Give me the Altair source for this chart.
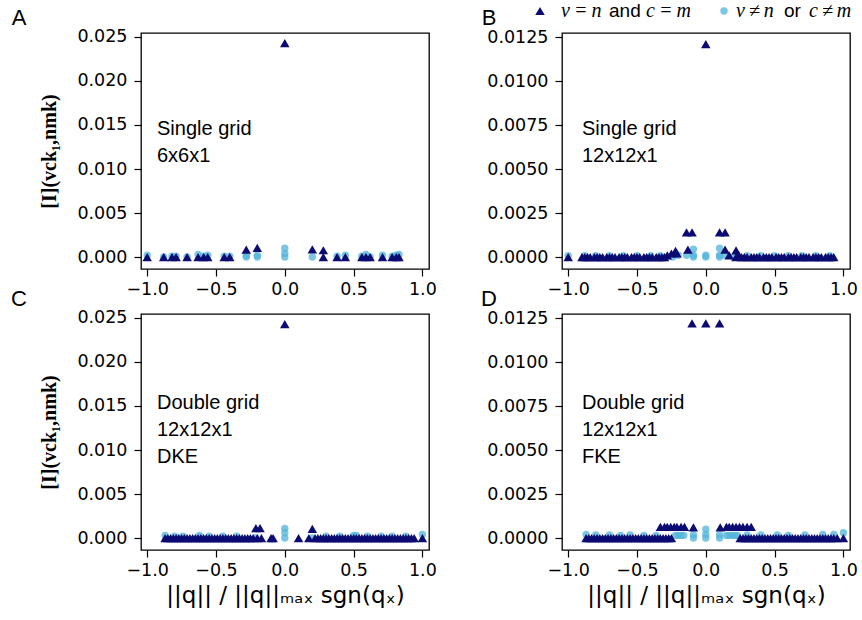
import altair as alt
import pandas as pd

# ---------------- data ----------------
XTICKS = [-1.0, -0.5, 0.0, 0.5, 1.0]
YTICKS_A = [0.0, 0.005, 0.010, 0.015, 0.020, 0.025]
YTICKS_B = [0.0, 0.0025, 0.0050, 0.0075, 0.0100, 0.0125]

# Panel A : single grid 6x6x1   (x, value)
A_tri = [(-1.00, 0.0), (-0.88, 0.0), (-0.82, 0.0), (-0.79, 0.0), (-0.71, 0.0),
         (-0.63, 0.0), (-0.59, 0.0), (-0.56, 0.0), (-0.44, 0.0), (-0.40, 0.0),
         (-0.28, 0.00085), (-0.20, 0.00104), (0.00, 0.0243), (0.20, 0.00088),
         (0.28, 0.00077), (0.28, 0.0), (0.38, 0.0), (0.44, 0.0), (0.56, 0.0),
         (0.59, 0.0), (0.62, 0.0), (0.71, 0.0), (0.78, 0.0), (0.81, 0.0), (0.83, 0.0)]
A_circ = [(-1.00, 0.0002), (-0.88, 0.0), (-0.82, 0.0001), (-0.79, 0.0001), (-0.71, 0.0),
          (-0.63, 0.0003), (-0.59, 0.0001), (-0.56, 0.0002), (-0.44, 0.0001), (-0.40, 0.0001),
          (-0.28, 0.0), (-0.28, 0.0002), (-0.20, 0.0), (-0.20, 0.0002), (0.00, 0.0),
          (0.00, 0.0004), (0.00, 0.0010), (0.20, 0.0), (0.38, 0.0001), (0.44, 0.0002),
          (0.56, 0.0001), (0.59, 0.0003), (0.62, 0.0), (0.71, 0.0002), (0.78, 0.0001),
          (0.81, 0.0002), (0.83, 0.0003)]

# Panel B : single grid 12x12x1
B_tri = [(-1.00, 0.0), (-0.90, 0.0), (-0.88, 0.0), (-0.86, 0.0), (-0.84, 0.0), (-0.81, 0.0),
         (-0.79, 0.0), (-0.77, 0.0), (-0.75, 0.0), (-0.72, 0.0), (-0.70, 0.0), (-0.68, 0.0),
         (-0.66, 0.0), (-0.63, 0.0), (-0.61, 0.0), (-0.59, 0.0), (-0.57, 0.0), (-0.54, 0.0),
         (-0.52, 0.0), (-0.50, 0.0), (-0.48, 0.0), (-0.45, 0.0), (-0.43, 0.0), (-0.41, 0.0),
         (-0.39, 0.0), (-0.36, 0.0), (-0.34, 0.0), (-0.32, 0.0), (-0.30, 0.0), (-0.28, 0.0001),
         (-0.25, 0.0002), (-0.22, 0.00035), (-0.21, 0.0002), (-0.14, 0.0014), (-0.13, 0.00042),
         (-0.10, 0.0014), (0.00, 0.0121), (0.10, 0.0014), (0.14, 0.0014), (0.14, 0.00042),
         (0.17, 0.0001), (0.22, 0.00038), (0.22, 0.0), (0.24, 0.0001), (0.26, 0.0),
         (0.28, 0.0), (0.30, 0.0), (0.33, 0.0), (0.35, 0.0), (0.37, 0.0), (0.39, 0.0),
         (0.42, 0.0), (0.44, 0.0), (0.46, 0.0), (0.48, 0.0), (0.51, 0.0), (0.53, 0.0),
         (0.55, 0.0), (0.57, 0.0), (0.60, 0.0), (0.62, 0.0), (0.64, 0.0), (0.66, 0.0),
         (0.69, 0.0), (0.71, 0.0), (0.73, 0.0), (0.75, 0.0), (0.78, 0.0), (0.80, 0.0),
         (0.82, 0.0), (0.84, 0.0), (0.87, 0.0), (0.89, 0.0), (0.91, 0.0), (0.93, 0.0)]
B_circ = [(-1.00, 0.00008), (-0.88, 0.00008), (-0.80, 0.00008), (-0.70, 0.00008),
          (-0.60, 0.00008), (-0.50, 0.00008), (-0.40, 0.00008), (-0.33, 0.00008),
          (-0.24, 0.0), (-0.20, 0.0001), (-0.14, 0.0001), (-0.09, 0.00045), (-0.09, 0.0001),
          (-0.09, 0.0), (0.00, 0.0001), (0.00, 0.0), (0.10, 0.0005), (0.10, 0.0001),
          (0.10, 0.0), (0.14, 0.0001), (0.20, 0.0), (0.30, 0.00008), (0.40, 0.00008),
          (0.50, 0.00008), (0.60, 0.00008), (0.70, 0.00008), (0.80, 0.00008), (0.90, 0.00008)]

# Panel C : double grid 12x12x1, DKE
C_tri = [(-0.87, 0.0), (-0.85, 0.0), (-0.83, 0.0), (-0.81, 0.0), (-0.79, 0.0), (-0.77, 0.0),
         (-0.75, 0.0), (-0.73, 0.0), (-0.71, 0.0), (-0.69, 0.0), (-0.67, 0.0), (-0.65, 0.0),
         (-0.63, 0.0), (-0.61, 0.0), (-0.59, 0.0), (-0.57, 0.0), (-0.55, 0.0), (-0.53, 0.0),
         (-0.51, 0.0), (-0.49, 0.0), (-0.47, 0.0), (-0.45, 0.0), (-0.43, 0.0), (-0.41, 0.0),
         (-0.39, 0.0), (-0.37, 0.0), (-0.35, 0.0), (-0.33, 0.0), (-0.31, 0.0), (-0.29, 0.0),
         (-0.27, 0.0), (-0.25, 0.0), (-0.23, 0.0), (-0.21, 0.00113), (-0.18, 0.00113),
         (-0.20, 0.0), (-0.17, 0.0), (-0.10, 0.0), (-0.085, 0.0), (0.00, 0.0243),
         (0.10, 0.0), (0.175, 0.0), (0.20, 0.00105), (0.22, 0.0), (0.24, 0.0), (0.26, 0.0),
         (0.28, 0.0), (0.30, 0.0), (0.32, 0.0), (0.34, 0.0), (0.36, 0.0), (0.38, 0.0),
         (0.40, 0.0), (0.42, 0.0), (0.44, 0.0), (0.46, 0.0), (0.48, 0.0), (0.50, 0.0),
         (0.52, 0.0), (0.54, 0.0), (0.56, 0.0), (0.58, 0.0), (0.60, 0.0), (0.62, 0.0),
         (0.64, 0.0), (0.66, 0.0), (0.68, 0.0), (0.70, 0.0), (0.72, 0.0), (0.74, 0.0),
         (0.76, 0.0), (0.78, 0.0), (0.80, 0.0), (0.82, 0.0), (0.84, 0.0), (0.86, 0.0),
         (0.88, 0.0), (0.90, 0.0), (0.92, 0.0), (0.94, 0.0), (1.00, 0.0)]
C_circ = [(-0.87, 0.0003), (-0.80, 0.0002), (-0.74, 0.0002), (-0.62, 0.0003), (-0.55, 0.0002),
          (-0.45, 0.0002), (-0.35, 0.0002), (-0.21, 0.0), (0.00, 0.0011), (0.00, 0.0006),
          (0.00, 0.0), (0.20, 0.0), (0.30, 0.0002), (0.40, 0.0002), (0.50, 0.0003),
          (0.52, 0.0003), (0.60, 0.0002), (0.70, 0.0002), (0.78, 0.0002), (0.88, 0.0002),
          (1.00, 0.0004)]

# Panel D : double grid 12x12x1, FKE
D_tri = [(-0.87, 0.0), (-0.85, 0.0), (-0.83, 0.0), (-0.81, 0.0), (-0.79, 0.0), (-0.77, 0.0),
         (-0.75, 0.0), (-0.73, 0.0), (-0.71, 0.0), (-0.69, 0.0), (-0.67, 0.0), (-0.65, 0.0),
         (-0.63, 0.0), (-0.61, 0.0), (-0.59, 0.0), (-0.57, 0.0), (-0.55, 0.0), (-0.53, 0.0),
         (-0.51, 0.0), (-0.49, 0.0), (-0.47, 0.0), (-0.45, 0.0), (-0.43, 0.0), (-0.41, 0.0),
         (-0.39, 0.0), (-0.37, 0.0), (-0.35, 0.0), (-0.33, 0.0), (-0.31, 0.0), (-0.29, 0.0),
         (-0.27, 0.0), (-0.25, 0.0), (-0.33, 0.00064), (-0.30, 0.00064), (-0.28, 0.00064),
         (-0.255, 0.00064), (-0.23, 0.00064), (-0.21, 0.00064), (-0.18, 0.00064),
         (-0.155, 0.00064), (-0.09, 0.0006), (-0.10, 0.0122), (0.00, 0.0122), (0.10, 0.0122),
         (0.105, 0.0006), (0.15, 0.00064), (0.17, 0.00064), (0.195, 0.00064), (0.22, 0.00064),
         (0.245, 0.00064), (0.27, 0.00064), (0.30, 0.00064), (0.33, 0.00064),
         (0.25, 0.0), (0.27, 0.0), (0.29, 0.0), (0.31, 0.0), (0.33, 0.0), (0.35, 0.0),
         (0.37, 0.0), (0.39, 0.0), (0.41, 0.0), (0.43, 0.0), (0.45, 0.0), (0.47, 0.0),
         (0.49, 0.0), (0.51, 0.0), (0.53, 0.0), (0.55, 0.0), (0.57, 0.0), (0.59, 0.0),
         (0.61, 0.0), (0.63, 0.0), (0.65, 0.0), (0.67, 0.0), (0.69, 0.0), (0.71, 0.0),
         (0.73, 0.0), (0.75, 0.0), (0.77, 0.0), (0.79, 0.0), (0.81, 0.0), (0.83, 0.0),
         (0.85, 0.0), (0.87, 0.0), (0.89, 0.0), (0.91, 0.0), (0.93, 0.0), (0.955, 0.0),
         (1.00, 0.0)]
D_circ = [(-0.87, 0.0002), (-0.80, 0.00018), (-0.70, 0.00018), (-0.62, 0.00015),
          (-0.55, 0.00018), (-0.45, 0.00015), (-0.36, 0.00015), (-0.22, 0.00015),
          (-0.20, 0.00015), (-0.18, 0.00015), (-0.16, 0.00015), (-0.09, 0.00018),
          (-0.09, 0.0), (0.00, 0.0005), (0.00, 0.0002), (0.00, 0.0), (0.10, 0.00018),
          (0.10, 0.0), (0.15, 0.00015), (0.17, 0.00015), (0.19, 0.00015), (0.21, 0.00015),
          (0.23, 0.00015), (0.30, 0.00018), (0.40, 0.00018), (0.52, 0.00018),
          (0.60, 0.00015), (0.72, 0.00018), (0.85, 0.0002), (0.93, 0.0002), (1.00, 0.0003)]

TEXT_A = ["Single grid", "6x6x1"]
TEXT_B = ["Single grid", "12x12x1"]
TEXT_C = ["Double grid", "12x12x1", "DKE"]
TEXT_D = ["Double grid", "12x12x1", "FKE"]

YDOM_A = [-0.00136, 0.02545]
YDOM_B = [-0.00068, 0.01273]
XDOM = [-1.045, 1.048]

NAVY = "#0b0b72"
LIGHT = "#52b3d9"
W, H = 288, 236
YTITLE = "[Ι](vck₁,nmk)"
XTITLE = "||q|| / ||q||ₘₐₓ sgn(qₓ)"
SANS = "Liberation Sans"
SERIF = "Liberation Serif"
TS = "\u2009"  # thin space for the legend's math spacing


def one_row():
    return pd.DataFrame({"k": [0]})


def text_layer(txt, x, y, size=20, font=SANS, style="normal", align="left"):
    return alt.Chart(one_row()).mark_text(
        align=align, baseline="middle", fontSize=size, font=font,
        fontStyle=style, color="black", lineHeight=27
    ).encode(x=alt.value(x), y=alt.value(y), text=alt.value(txt))


def panel(tri, circ, ydom, yticks, yfmt, letter, lines, ty, ytitle, xtitle, legend=False):
    tri_df = pd.DataFrame(tri, columns=["x", "y"])
    circ_df = pd.DataFrame(circ, columns=["x", "y"])
    xax = dict(values=XTICKS, format=".1f", tickSize=7, labelPadding=4)
    if xtitle:
        xax.update(title=XTITLE, titleFont="DejaVu Sans", titleFontSize=23,
                   titleFontWeight="normal", titlePadding=6)
    else:
        xax.update(title=None)
    yax = dict(values=yticks, format=yfmt, tickSize=7, labelPadding=7)
    if ytitle:
        yax.update(title=YTITLE, titleFont=SERIF, titleFontSize=20,
                   titleFontWeight="bold", titlePadding=17)
    else:
        yax.update(title=None)
    xenc = alt.X("x:Q", scale=alt.Scale(domain=XDOM, nice=False, zero=False),
                 axis=alt.Axis(**xax))
    yenc = alt.Y("y:Q", scale=alt.Scale(domain=ydom, nice=False, zero=False),
                 axis=alt.Axis(**yax))
    circles = alt.Chart(circ_df).mark_point(
        shape="circle", filled=True, size=55, color=LIGHT, opacity=0.75
    ).encode(x=xenc, y=yenc)
    tris = alt.Chart(tri_df).mark_point(
        shape="triangle-up", filled=True, size=90, color=NAVY, opacity=1
    ).encode(x=xenc, y=yenc)
    layers = [circles, tris,
              text_layer(lines, 16 if letter in "AC" else 20, ty),
              text_layer(letter, -122 if letter in "AC" else -73, -15, size=22, align="center")]
    if legend:
        layers += [
            alt.Chart(one_row()).mark_point(shape="triangle-up", filled=True, size=90,
                                            color=NAVY, opacity=1).encode(
                x=alt.value(-22), y=alt.value(-22)),
            text_layer(f"v{TS}={TS}n", -1, -22, size=20, font=SERIF, style="italic"),
            text_layer("and", 47, -22, size=19),
            text_layer(f"c{TS}={TS}m", 84, -22, size=20, font=SERIF, style="italic"),
            alt.Chart(one_row()).mark_point(shape="circle", filled=True, size=55,
                                            color=LIGHT, opacity=0.75).encode(
                x=alt.value(162), y=alt.value(-22)),
            text_layer(f"v{TS}≠{TS}n", 174, -22, size=20, font=SERIF, style="italic"),
            text_layer("or", 222, -22, size=19),
            text_layer(f"c{TS}≠{TS}m", 247, -22, size=20, font=SERIF, style="italic"),
        ]
    return alt.layer(*layers).properties(width=W, height=H)


A = panel(A_tri, A_circ, YDOM_A, YTICKS_A, ".3f", "A", TEXT_A, 96, True, False)
B = panel(B_tri, B_circ, YDOM_B, YTICKS_B, ".4f", "B", TEXT_B, 96, False, False, legend=True)
C = panel(C_tri, C_circ, YDOM_A, YTICKS_A, ".3f", "C", TEXT_C, 89, True, True)
D = panel(D_tri, D_circ, YDOM_B, YTICKS_B, ".4f", "D", TEXT_D, 89, False, True)

chart = alt.concat(
    A, B, C, D, columns=2, spacing={"row": 45, "column": 133}, bounds="flush"
).properties(
    padding={"left": 10, "top": 0, "right": 4, "bottom": 4}
).configure(background="white").configure_view(
    stroke="black", strokeWidth=1.3
).configure_axis(
    grid=False, domain=False, labelFont="DejaVu Sans", labelFontSize=17.5,
    labelColor="black", tickColor="black", tickWidth=1.2, titleColor="black"
)

chart.save("out.html", embed_options={"renderer": "svg", "actions": False})
